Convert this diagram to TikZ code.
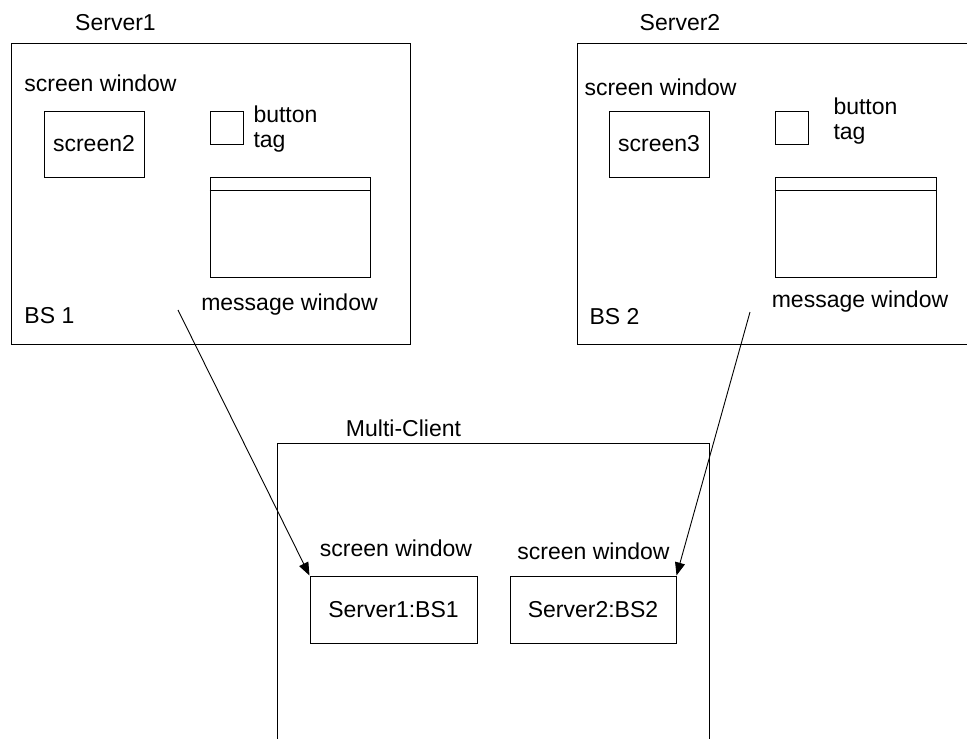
\documentclass[tikz,border=0pt]{standalone}
\usepackage{fontspec}
\setmainfont{Liberation Sans}
\usetikzlibrary{arrows.meta}

\begin{document}
\begin{tikzpicture}[x=0.5pt,y=-0.5pt,%
      box/.style={draw,line width=0.5pt,rectangle,inner sep=0pt},%
      lbl/.style={inner sep=0pt,font=\fontsize{11.5}{12.5}\selectfont},%
      pointers/.style={line width=0.45pt,-{Triangle[length=6.5pt,width=5pt]}},%
      every node/.style={line width=0.5pt}%
      ]
      \useasboundingbox (0,0) rectangle (967,738);%
      %% create boxes
      \node[box,minimum width=199.5pt,minimum height=150pt] (srv1) at (210.5,194) {};%
      \node[box,minimum width=211.5pt,minimum height=150pt] (srv2) at (788.5,194) {};%
      \node[box,minimum width=216pt,minimum height=178.5pt] (mc) at (493,621.5) {};%
      \node[box,lbl,minimum width=50pt,minimum height=33pt] (scr2) at (94,144) {screen2};%
      \node[box,lbl,minimum width=50pt,minimum height=33pt] (scr3) at (659,144) {screen3};%
      \node[box,minimum width=16.5pt,minimum height=16.5pt] (btn1) at (226.5,127.5) {};%
      \node[box,minimum width=16.5pt,minimum height=16.5pt] (btn2) at (792,127.5) {};%
      \node[box,minimum width=80pt,minimum height=50pt] (msg1) at (290,227) {};%
      \node[box,minimum width=80.5pt,minimum height=50pt] (msg2) at (855.5,227) {};%
      \node[box,lbl,minimum width=83.5pt,minimum height=33.5pt] (cl1) at (393.5,609.5) {Server1:BS1};%
      \node[box,lbl,minimum width=83pt,minimum height=33.5pt] (cl2) at (593,609.5) {Server2:BS2};%
      %% title bars of the message windows
      \foreach \x in {msg1,msg2} {%
        \path (\x.north west) ++(0,14) coordinate (b1) ;%
        \path (\x.north east) ++(0,14) coordinate (b2) ;%
        \draw[line width=0.5pt] (b1) -- (b2);%
      }%
      %% labels
      \node[lbl] (t1) at (115.5,23) {Server1};%
      \node[lbl] (t2) at (680,23) {Server2};%
      \node[lbl] (t3) at (403.5,428) {Multi-Client};%
      \node[lbl,anchor=west] (sw1) at (24,83) {screen window};%
      \node[lbl,anchor=west] (sw2) at (584,87) {screen window};%
      \node[lbl] (sw3) at (396,548) {screen window};%
      \node[lbl] (sw4) at (593.5,551) {screen window};%
      \node[lbl,anchor=west,align=left] (bt1) at (253,129) {button\\tag};%
      \node[lbl,anchor=west,align=left] (bt2) at (833,121) {button\\tag};%
      \node[lbl] (mw1) at (289.5,305) {message window};%
      \node[lbl] (mw2) at (860,302) {message window};%
      \node[lbl,anchor=west] (bs1) at (24,316) {BS 1};%
      \node[lbl,anchor=west] (bs2) at (589,317) {BS 2};%
      %% draw pointers
      \coordinate (p1) at (178,310);%
      \coordinate (p2) at (750,312);%
      \draw[pointers] (p1) to (cl1.north west);%
      \draw[pointers] (p2) to (cl2.north east);%
    \end{tikzpicture}
\end{document}
